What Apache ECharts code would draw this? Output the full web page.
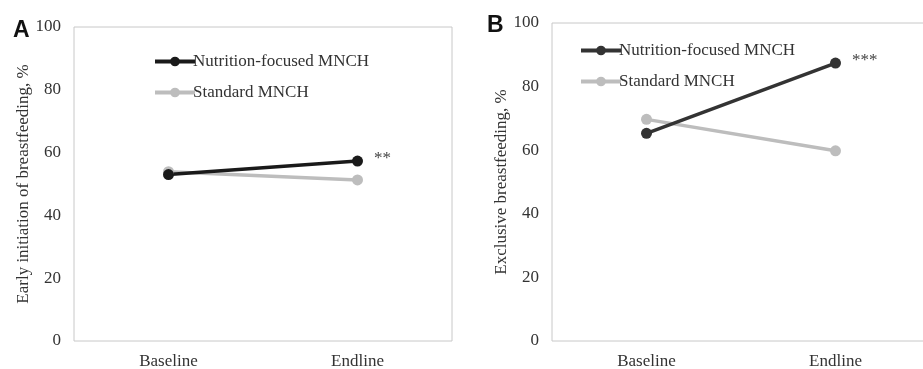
<!DOCTYPE html>
<html>
<head>
<meta charset="utf-8">
<script src="https://cdn.jsdelivr.net/npm/echarts@6/dist/echarts.min.js"></script>
<style>
  html, body { margin: 0; padding: 0; background: #fff; }
  #main { width: 923px; height: 369px; }
</style>
</head>
<body>
<div id="main"></div>
<script>
var categories = ['Baseline', 'Endline'];
var seriesNames = ['Nutrition-focused MNCH', 'Standard MNCH'];
var yTicks = [0, 20, 40, 60, 80, 100];

// panel A: early initiation of breastfeeding, %
var earlyNutrition = [53.0, 57.3];
var earlyStandard = [53.9, 51.3];
// panel B: exclusive breastfeeding, %
var exclusiveNutrition = [65.3, 87.4];
var exclusiveStandard = [69.7, 59.8];
var stars = ['**', '***'];

var serif = 'Liberation Serif';
var chart = echarts.init(document.getElementById('main'));

function withStar(values, star) {
    return values.map(function (v, i) {
        if (i !== values.length - 1) return v;
        return {
            value: v,
            label: {
                show: true, position: 'right', distance: 10, offset: [1, -3],
                formatter: star, color: '#444', fontFamily: serif, fontSize: 17
            }
        };
    });
}

function lineSeries(name, values, color, idx) {
    return {
        name: name,
        type: 'line',
        xAxisIndex: idx,
        yAxisIndex: idx,
        data: values,
        symbol: 'circle',
        symbolSize: 11,
        lineStyle: { width: 3.5, color: color },
        itemStyle: { color: color },
        emphasis: { disabled: true },
        animation: false
    };
}

function legendFor(left, top, darkColor) {
    return {
        left: left, top: top, orient: 'vertical',
        itemWidth: 40, itemHeight: 12, itemGap: 14,
        selectedMode: false,
        textStyle: { fontFamily: serif, fontSize: 17, color: '#333', padding: [0, 0, 0, -7] },
        data: [
            { name: seriesNames[0], itemStyle: { color: darkColor }, lineStyle: { color: darkColor, width: 4 } },
            { name: seriesNames[1], itemStyle: { color: '#bdbdbd' }, lineStyle: { color: '#bdbdbd', width: 4 } }
        ]
    };
}

function xAxisFor(idx) {
    return {
        type: 'category', gridIndex: idx, data: categories,
        axisLine: { show: false }, axisTick: { show: false },
        axisLabel: { fontFamily: serif, fontSize: 17, color: '#333', margin: 12 }
    };
}

function yAxisFor(idx, name, gap) {
    return {
        type: 'value', gridIndex: idx, min: 0, max: 100, interval: 20,
        name: name, nameLocation: 'middle', nameGap: gap,
        nameTextStyle: { fontFamily: serif, fontSize: 17, color: '#333' },
        splitLine: { show: false },
        axisLine: { show: false }, axisTick: { show: false },
        axisLabel: {
            fontFamily: serif, fontSize: 17, color: '#333', margin: 13,
            formatter: function (v) { return yTicks.indexOf(v) >= 0 ? String(v) : ''; }
        }
    };
}

var option = {
    backgroundColor: '#fff',
    title: [
        { text: 'A', left: 8, top: 14, textStyle: { fontFamily: 'Liberation Sans', fontWeight: 'bold', fontSize: 23, color: '#111' } },
        { text: 'B', left: 482, top: 9, textStyle: { fontFamily: 'Liberation Sans', fontWeight: 'bold', fontSize: 23, color: '#111' } }
    ],
    grid: [
        { left: 74, top: 27, width: 378, bottom: 28, show: true, borderColor: '#c8c8c8', borderWidth: 1, outerBoundsMode: 'none' },
        { left: 552, top: 23, width: 378, bottom: 28, show: true, borderColor: '#c8c8c8', borderWidth: 1, outerBoundsMode: 'none' }
    ],
    legend: [legendFor(148, 48, '#1a1a1a'), legendFor(574, 37, '#333333')],
    xAxis: [xAxisFor(0), xAxisFor(1)],
    yAxis: [
        yAxisFor(0, 'Early initiation of breastfeeding, %', 38),
        yAxisFor(1, 'Exclusive breastfeeding, %', 38)
    ],
    series: [
        lineSeries(seriesNames[1], earlyStandard, '#bdbdbd', 0),
        lineSeries(seriesNames[0], withStar(earlyNutrition, stars[0]), '#1a1a1a', 0),
        lineSeries(seriesNames[1], exclusiveStandard, '#bdbdbd', 1),
        lineSeries(seriesNames[0], withStar(exclusiveNutrition, stars[1]), '#333333', 1)
    ]
};
chart.setOption(option);
window.addEventListener('resize', chart.resize);
</script>
</body>
</html>
